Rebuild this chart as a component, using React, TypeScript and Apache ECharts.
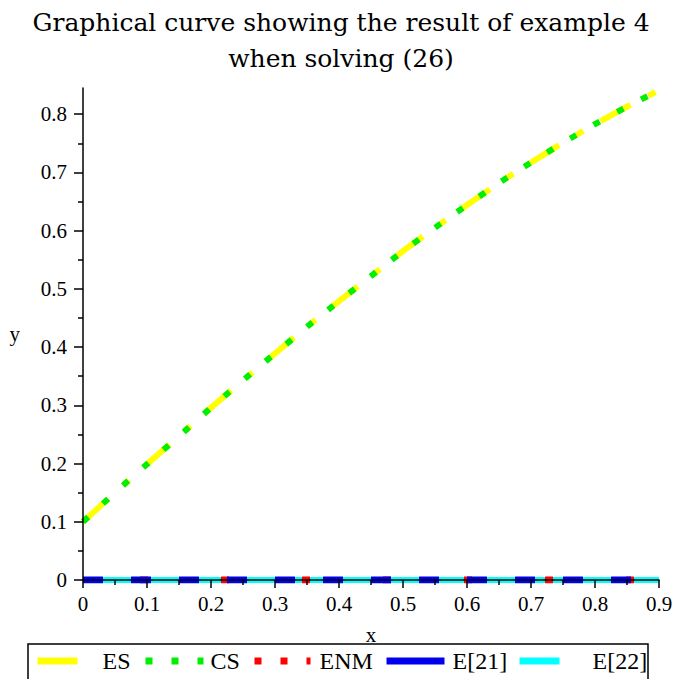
import React, { useEffect, useRef } from "react";
import * as echarts from "echarts";

// x grid and curve values
const xValues = [0, 0.05, 0.1, 0.15, 0.2, 0.25, 0.3, 0.35, 0.4, 0.45, 0.5, 0.55, 0.6, 0.65, 0.7, 0.75, 0.8, 0.85, 0.9];
const esValues = [0.1, 0.15, 0.199, 0.247, 0.296, 0.343, 0.389, 0.435, 0.479, 0.522, 0.565, 0.605, 0.644, 0.682, 0.717, 0.751, 0.783, 0.813, 0.841];
const csValues = [0.1, 0.15, 0.199, 0.247, 0.296, 0.343, 0.389, 0.435, 0.479, 0.522, 0.565, 0.605, 0.644, 0.682, 0.717, 0.751, 0.783, 0.813, 0.841];
const enmValues = [0, 0, 0, 0, 0, 0, 0, 0, 0, 0, 0, 0, 0, 0, 0, 0, 0, 0, 0];
const e21Values = [0, 0, 0, 0, 0, 0, 0, 0, 0, 0, 0, 0, 0, 0, 0, 0, 0, 0, 0];
const e22Values = [0, 0, 0, 0, 0, 0, 0, 0, 0, 0, 0, 0, 0, 0, 0, 0, 0, 0, 0];

const seriesNames = ["ES", "CS", "ENM", "E[21]", "E[22]"];
const yMajorTicks = [0, 0.1, 0.2, 0.3, 0.4, 0.5, 0.6, 0.7, 0.8];
const yMinorTicks = [0.05, 0.15, 0.25, 0.35, 0.45, 0.55, 0.65, 0.75];
const titleLines = ["Graphical curve showing the result of example 4", "when solving (26)"];

const SERIF = "Liberation Serif";
const TITLE_FONT = "'DejaVu Serif', 'Liberation Serif', serif";

const COLORS: Record<string, string> = {
  ES: "#ffff00",
  CS: "#00ee00",
  ENM: "#ff0000",
  "E[21]": "#0000ee",
  "E[22]": "#00ffff",
};

// legend key styles (sample line type) and layout of each legend entry
const legendKeys: Record<string, { type: any; left: number; width: number; textPad: number }> = {
  ES: { type: "solid", left: 34, width: 40, textPad: 20 },
  CS: { type: [7, 19], left: 142, width: 58, textPad: 2 },
  ENM: { type: [7, 19], left: 249, width: 58, textPad: 4 },
  "E[21]": { type: "solid", left: 383, width: 58, textPad: 3 },
  "E[22]": { type: "solid", left: 516, width: 40, textPad: 28 },
};

const pairs = (ys: number[]) => xValues.map((x, i) => [x, ys[i]]);

export default function App() {
  const ref = useRef<HTMLDivElement>(null);

  useEffect(() => {
    document.body.style.margin = "0";
    if (!ref.current) return;
    const chart = echarts.init(ref.current, undefined, { renderer: "svg" });

    const axisText = { color: "#000", fontFamily: SERIF, fontSize: 21 };

    const legends = seriesNames.map((name) => {
      const k = legendKeys[name];
      return {
        left: k.left,
        top: 649,
        padding: 0,
        itemWidth: k.width,
        itemHeight: 14,
        selectedMode: false,
        itemStyle: { opacity: 0 },
        textStyle: { fontFamily: SERIF, fontSize: 24, color: "#000", padding: [0, 0, 0, k.textPad] },
        data: [{ name, lineStyle: { type: k.type, color: COLORS[name], width: 7, cap: "butt" } }],
      };
    });

    chart.setOption({
      animation: false,
      backgroundColor: "#fff",
      grid: {
        left: 83,
        right: 31,
        top: 88,
        bottom: 99,
        outerBoundsMode: "none",
        containLabel: false,
      },
      legend: legends,
      graphic: [
        // two-line heading
        ...titleLines.map((line, i) => ({
          type: "text",
          x: 341,
          y: 22 + i * 36,
          z: 10,
          style: {
            text: line,
            fontFamily: TITLE_FONT,
            fontSize: 25,
            fill: "#000",
            align: "center",
            verticalAlign: "middle",
          },
        })),
        // legend frame
        {
          type: "rect",
          z: 0,
          shape: { x: 28, y: 644, width: 620, height: 50 },
          style: { fill: "#fff", stroke: "#000", lineWidth: 1.5 },
        },
      ],
      xAxis: {
        type: "value",
        min: 0,
        max: 0.9,
        interval: 0.1,
        z: 5,
        name: "x",
        nameLocation: "middle",
        nameGap: 44,
        nameTextStyle: axisText,
        axisLine: { show: true, onZero: false, lineStyle: { color: "#000", width: 1.5 } },
        axisTick: { show: true, inside: false, length: 8, lineStyle: { color: "#000", width: 1.5 } },
        minorTick: { show: true, splitNumber: 2, length: 5, lineStyle: { color: "#000", width: 1.5 } },
        axisLabel: { ...axisText, margin: 13, formatter: (v: number) => String(+v.toFixed(2)) },
        splitLine: { show: false },
        minorSplitLine: { show: false },
      },
      yAxis: [
        {
          type: "value",
          min: 0,
          max: 0.845,
          interval: 0.1,
          z: 5,
          name: "y",
          nameLocation: "middle",
          nameRotate: 0,
          nameGap: 63,
          nameTextStyle: axisText,
          axisLine: { show: true, onZero: false, lineStyle: { color: "#000", width: 1.5 } },
          axisTick: { show: true, length: 9, customValues: yMajorTicks, lineStyle: { color: "#000", width: 1.5 } },
          axisLabel: { ...axisText, margin: 16, customValues: yMajorTicks, formatter: (v: number) => String(+v.toFixed(2)) },
          splitLine: { show: false },
        },
        {
          type: "value",
          min: 0,
          max: 0.845,
          position: "left",
          offset: 0,
          z: 5,
          axisLine: { show: false },
          axisTick: { show: true, length: 5, customValues: yMinorTicks, lineStyle: { color: "#000", width: 1.5 } },
          axisLabel: { show: false },
          splitLine: { show: false },
        },
      ],
      series: [
        {
          name: "ES",
          type: "line",
          data: pairs(esValues),
          symbol: "none",
          z: 2,
          lineStyle: { color: COLORS.ES, width: 6, type: [34, 20, 8, 20], cap: "butt" },
          itemStyle: { color: COLORS.ES },
        },
        {
          name: "CS",
          type: "line",
          data: pairs(csValues),
          symbol: "none",
          z: 3,
          lineStyle: { color: COLORS.CS, width: 6, type: [7, 20], cap: "butt" },
          itemStyle: { color: COLORS.CS },
        },
        {
          name: "ENM",
          type: "line",
          data: pairs(enmValues),
          symbol: "none",
          z: 3,
          lineStyle: { color: COLORS.ENM, width: 7, type: [8, 73], dashOffset: 24, cap: "butt" },
          itemStyle: { color: COLORS.ENM },
        },
        {
          name: "E[21]",
          type: "line",
          data: pairs(e21Values),
          symbol: "none",
          z: 4,
          lineStyle: { color: COLORS["E[21]"], width: 7, type: [20, 28], dashOffset: 0, cap: "butt" },
          itemStyle: { color: COLORS["E[21]"] },
        },
        {
          name: "E[22]",
          type: "line",
          data: pairs(e22Values),
          symbol: "none",
          z: 1,
          lineStyle: { color: COLORS["E[22]"], width: 6, type: "solid", cap: "butt" },
          itemStyle: { color: COLORS["E[22]"] },
        },
      ],
    });

    return () => chart.dispose();
  }, []);

  return <div ref={ref} style={{ width: 690, height: 679 }} />;
}
